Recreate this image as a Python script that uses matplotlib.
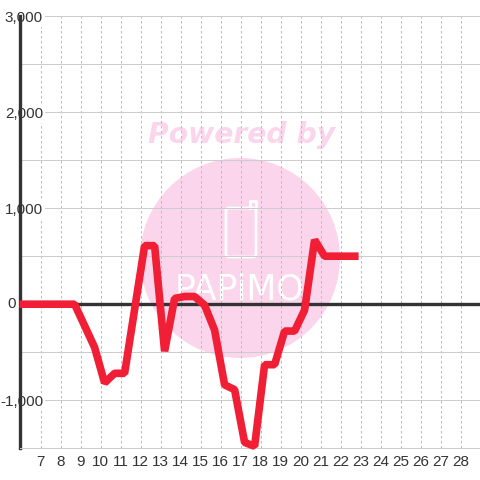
import matplotlib
matplotlib.use('Agg')
import matplotlib.pyplot as plt
from matplotlib.patches import Circle, FancyBboxPatch

plt.rcParams['font.family'] = ['Liberation Sans', 'DejaVu Sans']

# values
days = [5.95, 8.7, 9.7, 10.2, 10.7, 11.2, 12.2, 12.7, 13.2, 13.7, 14.2, 14.7, 15.2,
        15.7, 16.2, 16.7, 17.2, 17.7, 18.2, 18.7, 19.2, 19.7, 20.2, 20.7, 21.2, 22.9]
balance = [0, 0, -450, -820, -720, -720, 610, 610, -490, 60, 80, 80, -10,
           -270, -840, -890, -1440, -1480, -630, -630, -280, -280, -60, 670, 500, 500]
x_ticks = list(range(7, 29))
y_major = [-1000, 0, 1000, 2000, 3000]
y_major_labels = ['-1,000', '', '1,000', '2,000', '3,000']
y_minor = [-500, 500, 1500, 2500]

DARK = '#333333'
GRID = '#cccccc'
PINK = '#fbd5ec'
RED = '#f01f35'
LABEL_SIZE = 11

fig = plt.figure(figsize=(4.8, 4.8), dpi=100)

# watermark sits under the chart, in pixel coords
bg = fig.add_axes([0, 0, 1, 1], zorder=0)
bg.set_xlim(0, 480)
bg.set_ylim(480, 0)
bg.axis('off')
bg.add_patch(Circle((240, 258), 100, color=PINK, lw=0))
bg.text(242, 135, 'Powered by', color=PINK, fontsize=20.3, fontweight='bold', style='italic',
        family='DejaVu Sans', ha='center', va='center')
bg.add_patch(FancyBboxPatch((226, 208), 30, 49, boxstyle='round,pad=0,rounding_size=3',
                            fc='none', ec='white', lw=2))
bg.plot([250, 250, 255.5, 255.5], [208, 201, 201, 208], color='white', lw=2)
bg.text(239, 289, 'PAPiMO', color='white', fontsize=25, family='DejaVu Sans',
        ha='center', va='center')

ax = fig.add_axes([20 / 480, 31.8 / 480, 460 / 480, 432 / 480], zorder=1)
ax.patch.set_alpha(0)
ax.set_xlim(5.97, 28.97)
ax.set_ylim(-1500, 3000)

ax.set_xticks(x_ticks)
ax.set_yticks(y_major)
ax.set_yticks(y_minor, minor=True)
ax.set_yticklabels(y_major_labels)
ax.grid(True, axis='x', color='#bbbbbb', lw=0.72, ls=(0, (2.5, 2.5)))
ax.grid(True, axis='y', which='both', color=GRID, lw=0.72, ls='-')
ax.set_axisbelow(True)

ax.tick_params(axis='both', which='both', length=0, labelsize=LABEL_SIZE, labelcolor=DARK)
ax.tick_params(axis='x', pad=5)
ax.tick_params(axis='y', pad=-16.6)

for s in ['top', 'right']:
    ax.spines[s].set_visible(False)
ax.spines['left'].set_color(DARK)
ax.spines['left'].set_linewidth(2.4)
ax.spines['bottom'].set_color(GRID)
ax.spines['bottom'].set_linewidth(0.72)

for lab in ax.get_yticklabels():
    if lab.get_text():
        lab.set_bbox(dict(fc='white', ec='none', pad=1.5))

ax.axhline(0, color=DARK, lw=2.4, zorder=2)
ax.plot(days, balance, color=RED, lw=5.5, solid_joinstyle='bevel', solid_capstyle='butt',
        zorder=3, clip_on=False)

# the zero label sits left of the axis
ax.annotate('0', xy=(0, 0), xycoords=('axes fraction', 'data'), xytext=(-3, 0),
            textcoords='offset points', ha='right', va='center', fontsize=LABEL_SIZE, color=DARK,
            annotation_clip=False)

fig.savefig('out.png', dpi=100)
